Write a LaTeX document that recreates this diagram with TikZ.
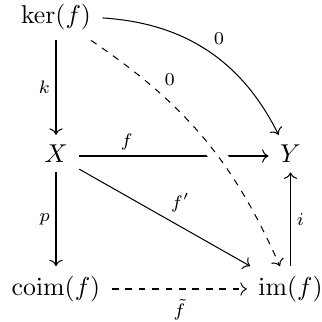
\documentclass[tikz,border=0pt]{standalone}
\usepackage{amsmath}
\usetikzlibrary{cd}
\DeclareMathOperator{\coimop}{coim}
\DeclareMathOperator{\imop}{im}
\begin{document}
\begin{tikzpicture}[x=0.3876pt,y=-0.3876pt,
  obj/.style={shape=asymmetrical rectangle, inner xsep=1ex, inner ysep=0.85ex},
  lab/.style={auto, inner sep=0.5ex},
  arr/.style={-{cm to}, line width=0.4pt},
  dsh/.style={dash pattern=on 2.6pt off 2.6pt},
  crossing/.style={preaction={draw=white, line width=6.5pt, -, solid}}]
\useasboundingbox (0,0) rectangle (321,322);
\node[obj] (ker) at (56,17.5) {$\ker(f)$};
\node[obj] (X) at (56,156) {$X$};
\node[obj] (Y) at (290.5,156) {$Y$};
\node[obj] (coim) at (56,289) {$\coimop(f)$};
\node[obj] (im) at (290.5,289) {$\imop(f)$};
\draw[arr] (ker) -- node[lab, swap]{$\scriptstyle k$} (X);
\draw[arr] (X) -- node[lab, swap]{$\scriptstyle p$} (coim);
\draw[arr] (X) -- node[lab, pos=0.25]{$\scriptstyle f$} (Y);
\draw[arr] (X) -- node[lab]{$\scriptstyle f'$} (im);
\draw[arr] (im) -- node[lab, swap]{$\scriptstyle i$} (Y);
\draw[arr, dsh] (coim) -- node[lab, swap, inner sep=0.9ex]{$\scriptstyle \tilde f$} (im);
\draw[arr] (ker) to[bend left=30] node[lab]{$\scriptstyle 0$} (Y);
\draw[arr, dsh, crossing] (ker) to[bend left=16] node[lab, pos=0.27]{$\scriptstyle 0$} (im);
\end{tikzpicture}
\end{document}
